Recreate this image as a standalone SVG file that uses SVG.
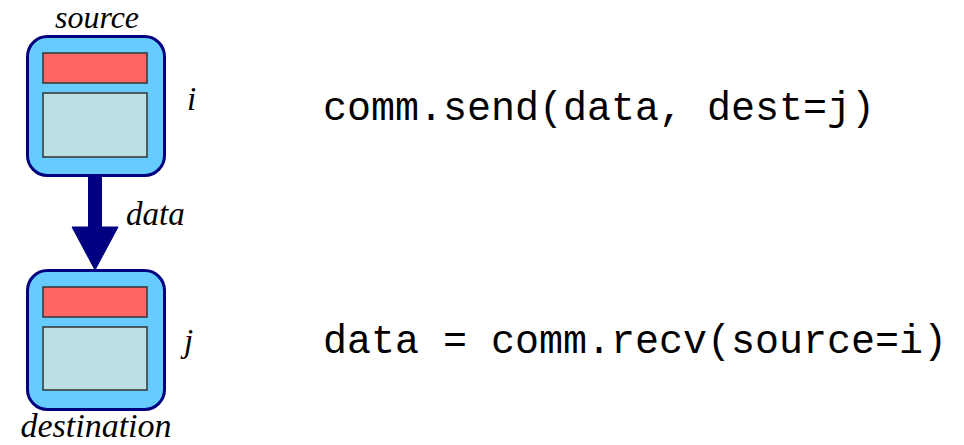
<svg xmlns="http://www.w3.org/2000/svg" width="964" height="445" viewBox="0 0 964 445">
  <style>
    .proc { fill: #66ccff; stroke: #000080; stroke-width: 3; }
    .hdr { fill: #ff6666; stroke: #333333; stroke-width: 1.5; }
    .body { fill: #bbe0e3; stroke: #333333; stroke-width: 1.5; }
    .lbl { font-family: "Liberation Serif", "DejaVu Serif", serif; font-style: italic; fill: #000; }
    .code { font-family: "Liberation Mono", "DejaVu Sans Mono", monospace; font-size: 40px; fill: #000; }
  </style>
  <rect width="964" height="445" fill="#ffffff"/>

  <!-- message arrow from source to destination -->
  <g id="connectors">
    <path d="M88.5,175 H101.5 V227 H118 L95,270 L72,227 H88.5 Z" fill="#000080" stroke="#000080" stroke-width="1"/>
    <text class="lbl" x="126" y="225" font-size="33">data</text>
  </g>

  <!-- sending process -->
  <g id="source">
    <rect class="proc" x="27.5" y="36.5" width="137" height="139" rx="20"/>
    <rect class="hdr" x="43" y="53" width="104" height="30"/>
    <rect class="body" x="43" y="93" width="104" height="64"/>
    <text class="lbl" x="97" y="28" font-size="31" text-anchor="middle" textLength="84" lengthAdjust="spacingAndGlyphs">source</text>
    <text class="lbl" x="187" y="110" font-size="33">i</text>
  </g>

  <!-- receiving process -->
  <g id="destination">
    <rect class="proc" x="27.5" y="270.5" width="137" height="139" rx="20"/>
    <rect class="hdr" x="43" y="287" width="104" height="30"/>
    <rect class="body" x="43" y="327" width="104" height="63"/>
    <text class="lbl" x="96" y="437" font-size="34" text-anchor="middle">destination</text>
    <text class="lbl" x="184" y="352" font-size="33">j</text>
  </g>

  <g id="code">
    <text class="code" x="323" y="120">comm.send(data, dest=j)</text>
    <text class="code" x="323" y="353">data = comm.recv(source=i)</text>
  </g>
</svg>
